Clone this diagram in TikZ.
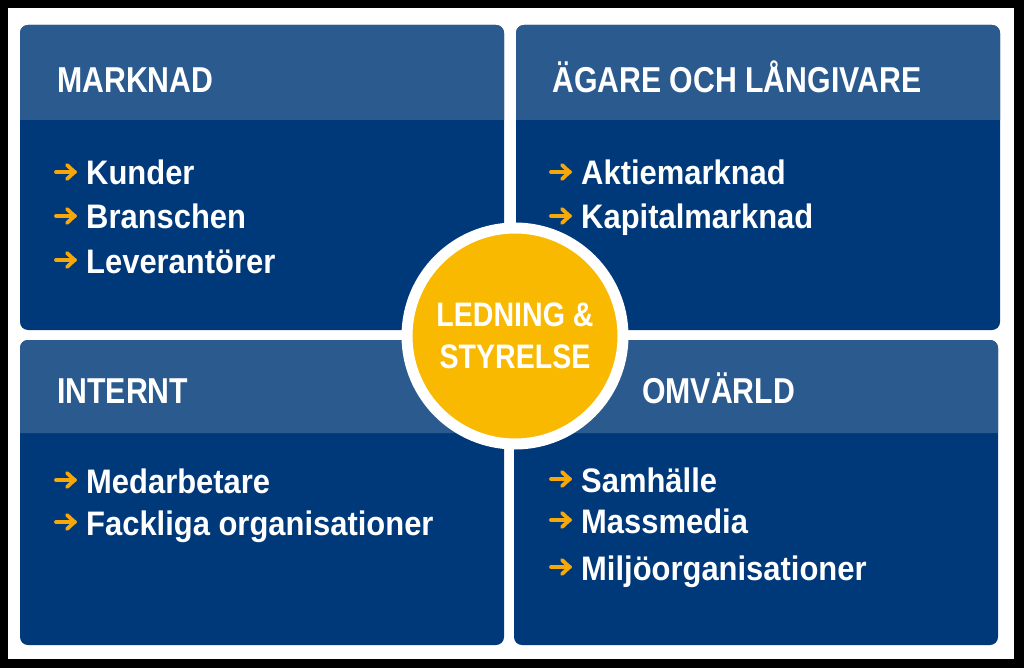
\documentclass[tikz,border=0pt]{standalone}
\usepackage{fontspec}
\setmainfont{Liberation Sans}
\newfontfamily\headfont[FakeStretch=0.84]{Liberation Sans}
\newfontfamily\itemfont[FakeStretch=0.91]{Liberation Sans}
\usetikzlibrary{positioning}
\definecolor{bodyblue}{RGB}{0,57,122}
\definecolor{headblue}{RGB}{43,90,142}
\definecolor{ringyellow}{RGB}{249,185,0}
\definecolor{arrowyellow}{RGB}{246,168,10}
\tikzset{
    head/.style = {anchor=base west, inner sep=0pt, text=white,
      font=\headfont\bfseries\fontsize{36}{40}\selectfont},
    item/.style = {anchor=base west, inner sep=0pt, text=white,
      font=\itemfont\bfseries\fontsize{34}{40}\selectfont},
    centre/.style = {circle, fill=ringyellow, draw=white, line width=11pt,
      minimum size=216pt, inner sep=0pt, align=center, text=white,
      font=\headfont\bfseries\fontsize{34}{42}\selectfont},
    body/.style = {fill=bodyblue, rounded corners=8pt},
    strip/.style = {fill=headblue},
    bullet/.style = {draw=arrowyellow, line width=3.8pt, line cap=round, line join=round}
}

\begin{document}
\begin{tikzpicture}[x=1pt, y=-1pt]
  % frame
  \fill[black] (0,0) rectangle (1024,668);
  \fill[white] (8,8) rectangle (1014,659);
  % panels
  \fill[body] (20,25) rectangle (504,330);
  \path[strip] (20,120) {[rounded corners=8pt] -- (20,25) -- (504,25)} -- (504,120) -- cycle;
  \fill[body] (516,25) rectangle (1000,330);
  \path[strip] (516,120) {[rounded corners=8pt] -- (516,25) -- (1000,25)} -- (1000,120) -- cycle;
  \fill[body] (20,340) rectangle (504,645);
  \path[strip] (20,433) {[rounded corners=8pt] -- (20,340) -- (504,340)} -- (504,433) -- cycle;
  \fill[body] (514,340) rectangle (998,645);
  \path[strip] (514,433) {[rounded corners=8pt] -- (514,340) -- (998,340)} -- (998,433) -- cycle;
  % centre
  \node [style=centre] (ledning) at (515,336) {LEDNING \&\\STYRELSE};
  % headers
  \node [style=head] (marknad) at (57,93) {MARKNAD};
  \node [style=head] (agare) at (552,93) {ÄGARE OCH LÅNGIVARE};
  \node [style=head] (internt) at (57,403) {INTERNT};
  \node [style=head] (omvarld) at (642,403) {OMVÄRLD};
  % items
  \node [style=item] (kunder) at (86,185) {Kunder};
  \node [style=item] (branschen) at (86,229) {Branschen};
  \node [style=item] (leverantorer) at (86,273) {Leverantörer};
  \node [style=item] (aktie) at (581,185) {Aktiemarknad};
  \node [style=item] (kapital) at (581,229) {Kapitalmarknad};
  \node [style=item] (medarb) at (86,493) {Medarbetare};
  \node [style=item] (fackliga) at (86,535) {Fackliga organisationer};
  \node [style=item] (samhalle) at (581,492) {Samhälle};
  \node [style=item] (massmedia) at (581,533) {Massmedia};
  \node [style=item] (miljo) at (581,580) {Miljöorganisationer};
  % arrows
  \foreach \n in {kunder,branschen,leverantorer,aktie,kapital,medarb,fackliga,samhalle,massmedia,miljo} {
    \draw [style=bullet] ([xshift=-30pt,yshift=13pt]\n.base west) -- ++(19,0);
    \draw [style=bullet] ([xshift=-19pt,yshift=20pt]\n.base west) -- ++(7.5,7) -- ++(-7.5,7);
  }
\end{tikzpicture}
\end{document}
